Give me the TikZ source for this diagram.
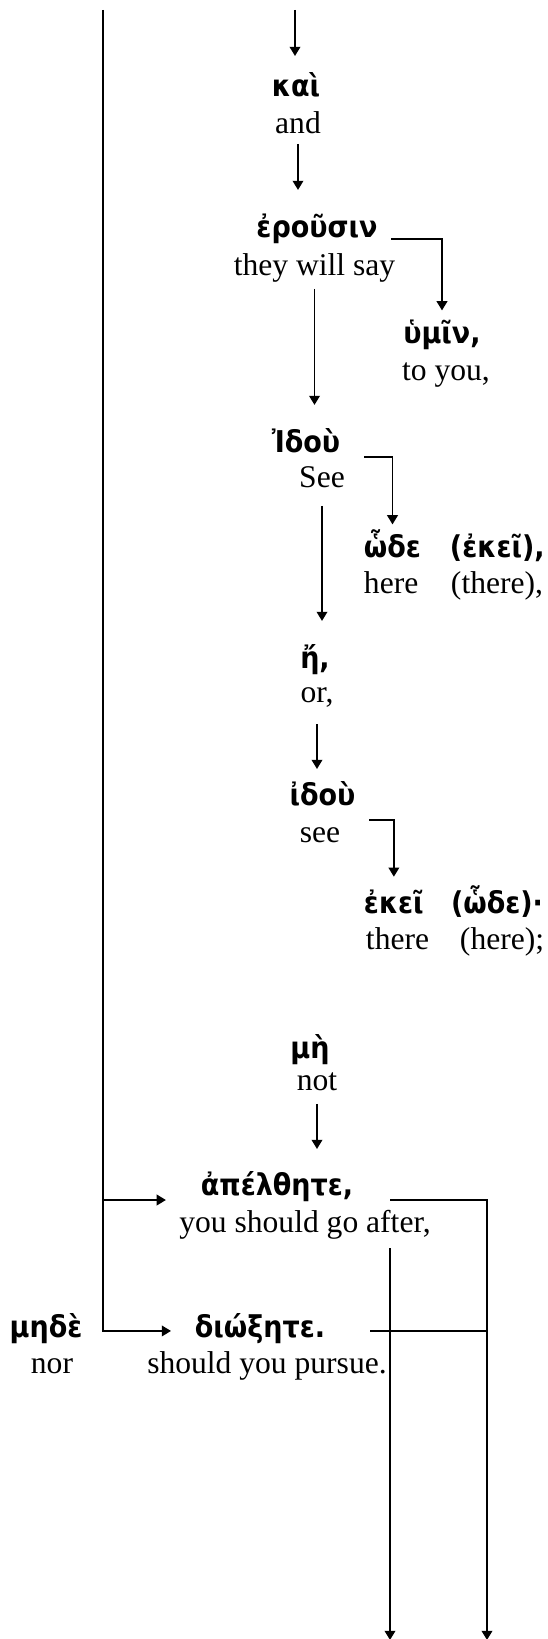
\documentclass[tikz,border=0pt]{standalone}
\usepackage{fontspec}
\setmainfont{Liberation Serif}
\newfontfamily\greekfont[Script=Greek, Scale=0.95]{DejaVu Sans Condensed}
\usetikzlibrary{calc}
\usetikzlibrary{arrows.meta}

\newcommand{\grk}{\fontsize{12}{14}\selectfont\greekfont\bfseries}
\newcommand{\eng}{\fontsize{12}{14}\selectfont}
\tikzset{
  gk/.style={font=\grk, inner sep=0pt, text height=12pt, text depth=3pt, anchor=base},
  en/.style={font=\eng, inner sep=0pt, text height=8pt, text depth=3pt, anchor=base},
  arr/.style={->, >={Triangle[length=3.5pt,width=4pt]}}
}

\begin{document}
\begin{tikzpicture}[x=0.38pt, y=-0.38pt, line width=0.75pt]
\useasboundingbox (0,0) rectangle (547,1639);
% free ends
\coordinate (ltop) at (102.7,10);
\coordinate (ktop) at (295,10);
\coordinate (bot1) at (390,1640);
\coordinate (bot2) at (487,1640);

% words
\node[gk] (kai) at (296,97) {καὶ};
\node[en] (kai-en) at (298,134) {and};
\node[gk] (erousin) at (317,237) {ἐροῦσιν};
\node[en] (erousin-en) at (314.5,275) {they will say};
\node[gk] (humin) at (442,343) {ὑμῖν,};
\node[en] (humin-en) at (446,380) {to you,};
\node[gk] (idou1) at (306,452) {Ἰδοὺ};
\node[en] (idou1-en) at (322,487) {See};
\node[gk, anchor=base west] (hode) at (363,557) {ὧδε};
\node[gk, anchor=base west] (hode-alt) at (449,557) {(ἐκεῖ),};
\node[en, anchor=base west] (hode-en) at (363,593) {here};
\node[en, anchor=base west] (hode-en-alt) at (450,593) {(there),};
\node[gk] (e) at (315,668) {ἤ,};
\node[en] (e-en) at (317,702) {or,};
\node[gk] (idou2) at (322.5,805) {ἰδοὺ};
\node[en] (idou2-en) at (320,842) {see};
\node[gk, anchor=base west] (ekei) at (363,913) {ἐκεῖ};
\node[gk, anchor=base east] (ekei-alt) at (544,913) {(ὧδε)·};
\node[en, anchor=base west] (ekei-en) at (365,949) {there};
\node[en, anchor=base west] (ekei-en-alt) at (459,949) {(here);};
\node[gk] (me) at (310,1058) {μὴ};
\node[en] (me-en) at (317,1090) {not};
\node[gk] (apelthete) at (277,1195) {ἀπέλθητε,};
\node[en] (apelthete-en) at (305,1232) {you should go after,};
\node[gk] (mede) at (46,1337) {μηδὲ};
\node[en] (mede-en) at (52,1373) {nor};
\node[gk] (dioxete) at (260,1337) {διώξητε.};
\node[en] (dioxete-en) at (267,1373) {should you pursue.};

% main line
\draw[arr, shorten >=3.2pt] (ktop) -- (ktop |- kai.north);
\draw[arr, shorten <=0.4pt, shorten >=5.5pt] (kai-en.south) -- (kai-en.south |- erousin.north);
\draw[arr, shorten <=1.9pt, shorten >=5.5pt] (erousin-en.south) -- (erousin-en.south |- idou1.north);
\draw[arr, shorten <=3.8pt, shorten >=5.5pt] (idou1-en.south) -- (idou1-en.south |- e.north);
\draw[arr, shorten <=5pt, shorten >=1.3pt] (e-en.south) -- (e-en.south |- idou2.north);
\draw[arr, shorten <=1.9pt, shorten >=5.1pt] (me-en.south) -- (me-en.south |- apelthete.north);

% side branches
\draw[arr] ([xshift=4.9pt, yshift=-0.8pt]erousin.base east) -| (humin.north);
\draw[arr] ([xshift=8.7pt, yshift=-1.9pt]idou1.base east) -| (hode.north);
\draw[arr, shorten >=1.4pt] ([xshift=4.9pt, yshift=-5.7pt]idou2.base east) -| (ekei.north);

% lower part
\coordinate (apout) at ([yshift=-1.9pt]apelthete.base east);
\coordinate (dxout) at ([xshift=16.7pt, yshift=2.3pt]dioxete.base east);
\draw[arr] (bot1 |- apout) -| (bot2);
\draw[arr, shorten <=2.7pt] (bot1 |- apelthete-en.south) -- (bot1);
\draw (dxout) -- (dxout -| bot2);

% left line
\coordinate (apin) at ([xshift=-12.9pt, yshift=-1.9pt]apelthete.base west);
\coordinate (dxin) at ([xshift=-8.7pt, yshift=2.3pt]dioxete.base west);
\draw[arr] (ltop) |- (dxin);
\draw[arr] (ltop |- apin) -- (apin);

\end{tikzpicture}
\end{document}
